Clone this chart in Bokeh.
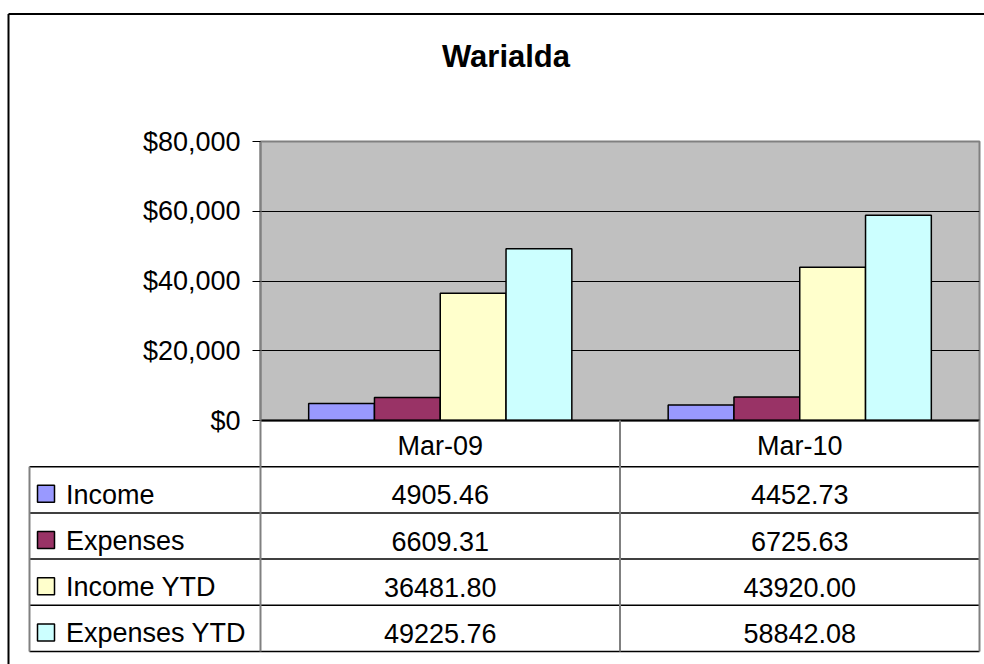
from bokeh.plotting import figure
from bokeh.models import (Range1d, FixedTicker, NumeralTickFormatter, ColumnDataSource)
from bokeh.transform import dodge
from bokeh.core.properties import value
from bokeh.embed import file_html
from bokeh.resources import INLINE

# ---------------- data ----------------
title_text = "Warialda"
categories = ["Mar-09", "Mar-10"]
series_names = ["Income", "Expenses", "Income YTD", "Expenses YTD"]
income = [4905.46, 4452.73]
expenses = [6609.31, 6725.63]
income_ytd = [36481.80, 43920.00]
expenses_ytd = [49225.76, 58842.08]
y_ticks = [0, 20000, 40000, 60000, 80000]

# ---------------- style / layout ----------------
colors = ["#9999FF", "#993366", "#FFFFCC", "#CCFFFF"]
FONT = "Liberation Sans"
BAR_W = 0.183
GRAY = "#808080"
W, H = 984, 664
MB_L, MB_R, MB_T, MB_B = 260, 5, 141, 244
FRAME_W = W - MB_L - MB_R
FRAME_H = H - MB_T - MB_B
ncat = len(categories)
CAT_PX = FRAME_W / ncat                 # pixels per category column
ROW_PX = 46.2                           # pixels per table row

series_values = [income, expenses, income_ytd, expenses_ytd]
keys = ["s0", "s1", "s2", "s3"]
cat_centers = [i + 0.5 for i in range(ncat)]
src = ColumnDataSource(dict(xc=cat_centers, **{k: v for k, v in zip(keys, series_values)}))

p = figure(width=W, height=H,
           x_range=Range1d(0, ncat), y_range=Range1d(0, 80000),
           output_backend="svg", toolbar_location=None,
           min_border_left=MB_L, min_border_right=MB_R,
           min_border_top=MB_T, min_border_bottom=MB_B)

# table coordinate system: y in rows, counted downwards from the x axis
p.extra_y_ranges["tbl"] = Range1d(0, -FRAME_H / ROW_PX)

p.background_fill_color = "#C0C0C0"
p.border_fill_color = "white"
p.outline_line_color = GRAY
p.outline_line_width = 2

p.xgrid.visible = False
p.ygrid.ticker = FixedTicker(ticks=y_ticks[1:-1])
p.ygrid.grid_line_color = "black"
p.ygrid.grid_line_width = 1

ya = p.yaxis[0]
ya.ticker = FixedTicker(ticks=y_ticks)
ya.formatter = NumeralTickFormatter(format="$0,0")
ya.major_label_text_font = FONT
ya.major_label_text_font_size = "27px"
ya.major_label_text_color = "black"
ya.major_tick_out = 8
ya.major_tick_in = 0
ya.major_tick_line_color = "black"
ya.minor_tick_line_color = None
ya.axis_line_color = GRAY
ya.axis_line_width = 2
ya.major_label_standoff = 12

xa = p.xaxis[0]
xa.ticker = FixedTicker(ticks=cat_centers)
xa.major_label_overrides = {c: name for c, name in zip(cat_centers, categories)}
xa.major_label_text_font = FONT
xa.major_label_text_font_size = "27px"
xa.major_label_text_color = "black"
xa.major_tick_line_color = None
xa.minor_tick_line_color = None
xa.axis_line_color = "black"
xa.axis_line_width = 2
xa.major_label_standoff = 4

offsets = [-1.5, -0.5, 0.5, 1.5]
for k, off, col in zip(keys, offsets, colors):
    p.vbar(x=dodge("xc", off * BAR_W), top=k, width=BAR_W,
           source=src, fill_color=col, line_color="black", line_width=1.5)

tk = dict(y_range_name="tbl", level="overlay")

# ---------------- title ----------------
p.text(x=[(505.5 - MB_L) / CAT_PX], y=[(55.5 - (MB_T + FRAME_H)) / ROW_PX], text=[title_text],
       text_font=value(FONT), text_font_size="31px", text_font_style="bold",
       text_color="black", text_align="center", text_baseline="middle", **tk)

# ---------------- data table (drawn below the frame) ----------------
n_rows = len(series_names) + 1
TABLE_LEFT = -(MB_L - 29) / CAT_PX      # left edge of the legend column

# outer chart border (top and left)
BX = -(MB_L - 8) / CAT_PX
BY = -(FRAME_H + MB_T - 13.5) / ROW_PX
p.segment(x0=[BX, BX], x1=[ncat + 1, BX], y0=[BY, BY], y1=[BY, 20],
          line_color="black", line_width=2, **tk)

# horizontal rules
hy = list(range(1, n_rows + 1))
p.segment(x0=[TABLE_LEFT] * len(hy), x1=[ncat] * len(hy), y0=hy, y1=hy,
          line_color="black", line_width=1.5, **tk)
# vertical rules
vx = [TABLE_LEFT] + list(range(ncat + 1))
vy0 = [1] + [0] * (ncat + 1)
p.segment(x0=vx, x1=vx, y0=vy0, y1=[n_rows] * len(vx), line_color=GRAY, line_width=2, **tk)

# values
vx_, vy_, vt_ = [], [], []
for r, vals in enumerate(series_values):
    for c, v in enumerate(vals):
        vx_.append(cat_centers[c])
        vy_.append(r + 1.5)
        vt_.append(f"{v:.2f}")
p.text(x=vx_, y=vy_, text=vt_, y_offset=5,
       text_font=value(FONT), text_font_size="27px", text_color="black",
       text_align="center", text_baseline="middle", **tk)

# legend keys and names
ry = [r + 1.5 for r in range(len(series_names))]
SW = 17
sx0 = TABLE_LEFT + 8 / CAT_PX
p.quad(left=[sx0] * len(ry), right=[sx0 + SW / CAT_PX] * len(ry),
       top=[v + (4 - SW / 2) / ROW_PX for v in ry], bottom=[v + (4 + SW / 2) / ROW_PX for v in ry],
       fill_color=colors, line_color="black", line_width=1.5, **tk)
p.text(x=[TABLE_LEFT + 36.5 / CAT_PX] * len(series_names), y=ry, text=series_names, y_offset=5,
       text_font=value(FONT), text_font_size="27px", text_color="black",
       text_align="left", text_baseline="middle", **tk)

open("out.html", "w").write(file_html(p, INLINE))
